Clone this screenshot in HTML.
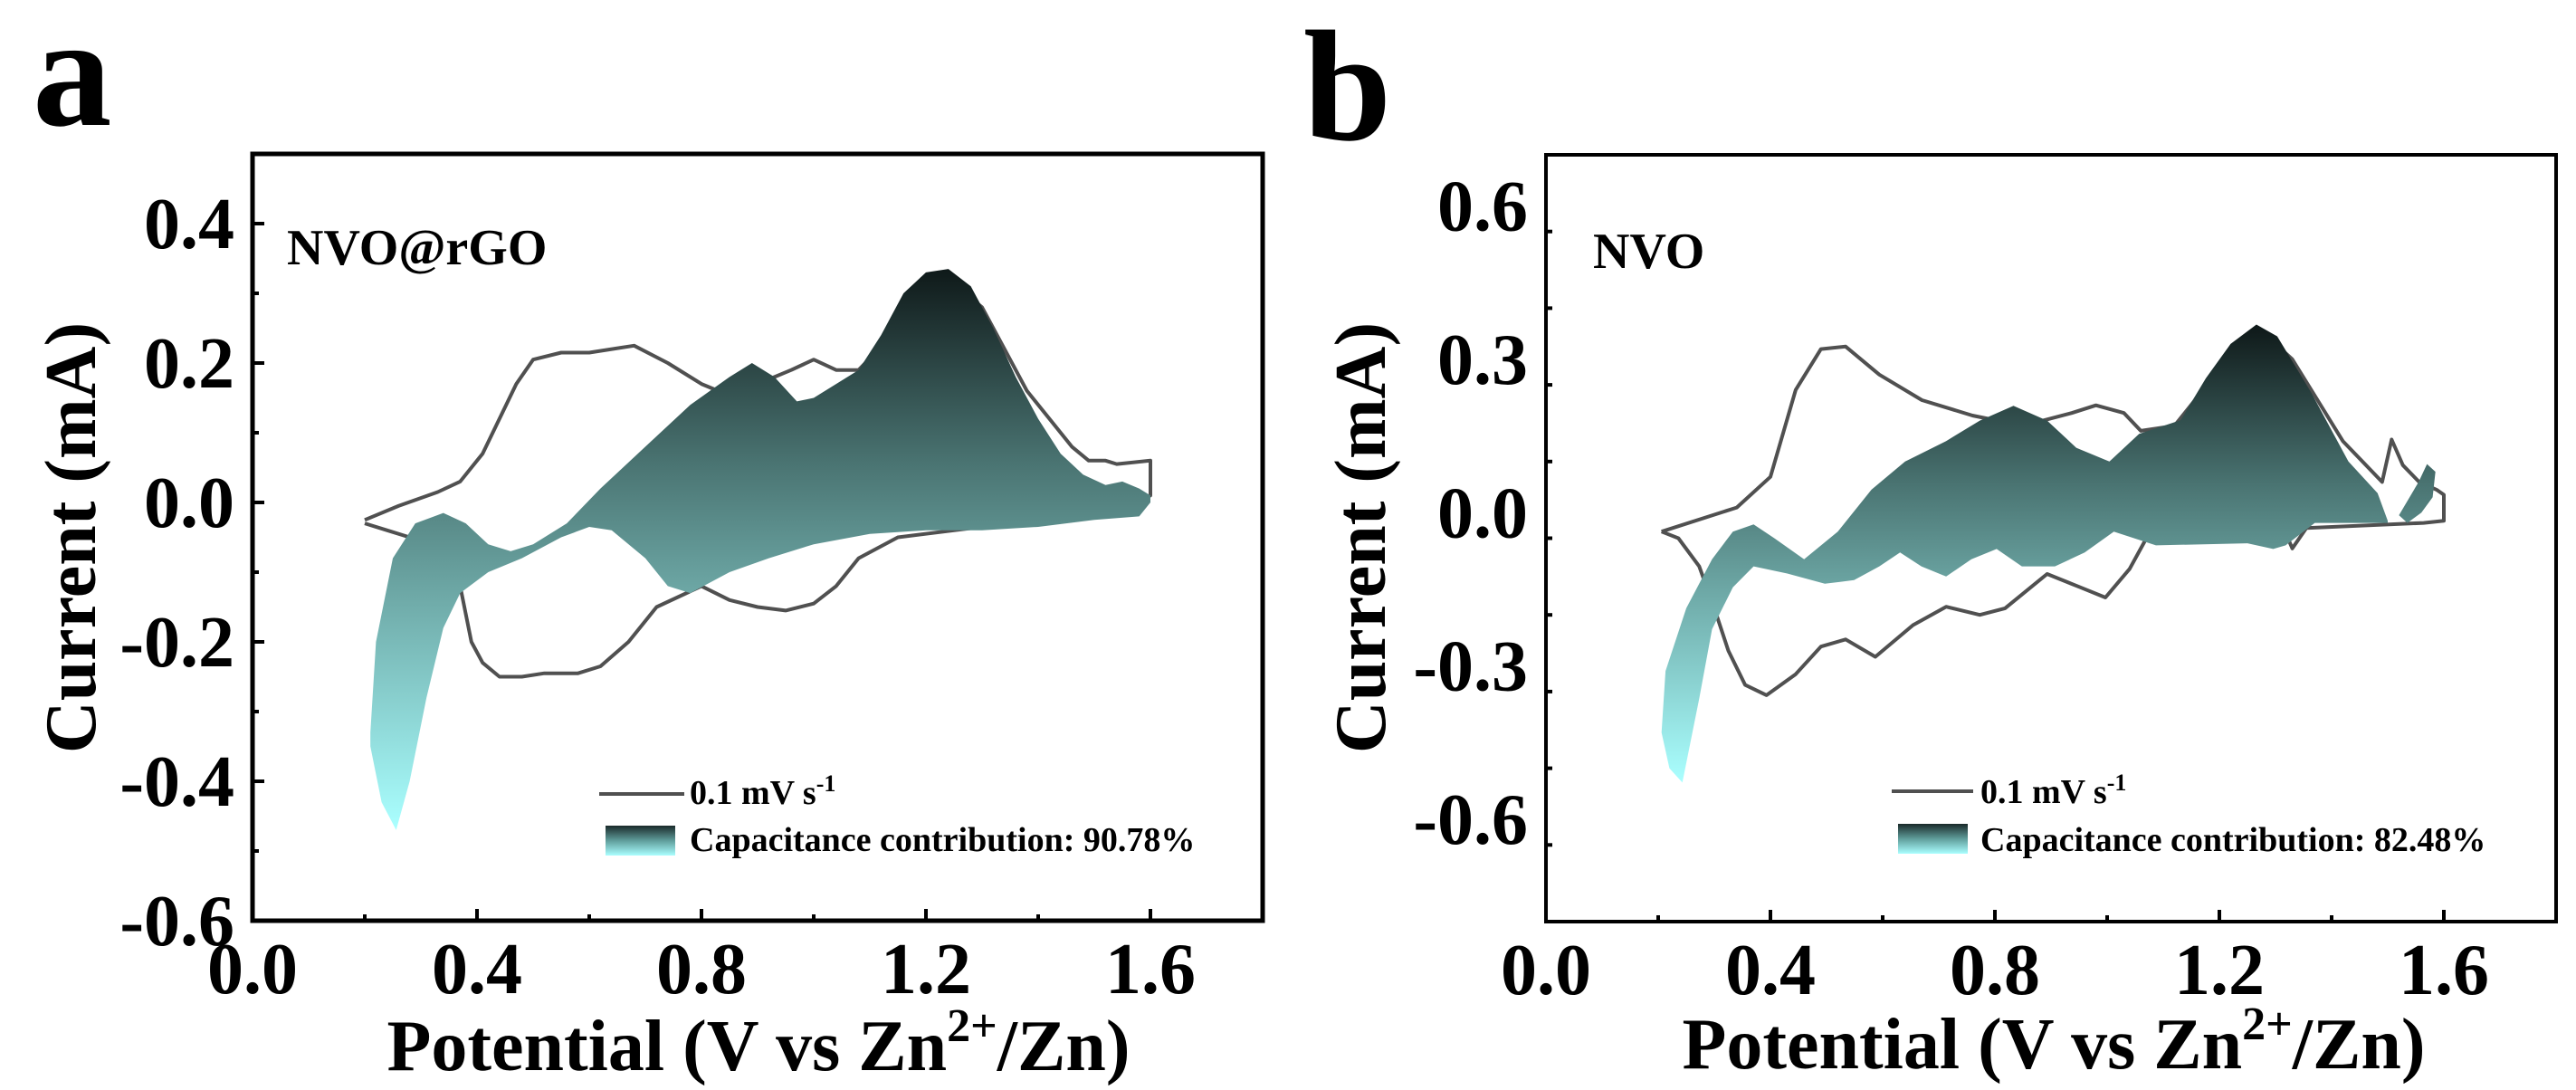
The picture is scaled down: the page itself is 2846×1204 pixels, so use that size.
<!DOCTYPE html>
<html><head><meta charset="utf-8"><style>
html,body{margin:0;padding:0;background:#fff;}
svg{display:block;}
text{font-family:"Liberation Serif",serif;font-weight:bold;fill:#000;}
</style></head><body>
<svg id="fig" width="2846" height="1204" viewBox="0 0 2846 1204" xmlns="http://www.w3.org/2000/svg">
<defs>
<linearGradient id="gA" gradientUnits="userSpaceOnUse" x1="0" y1="295" x2="0" y2="915">
<stop offset="0" stop-color="#0e1818"/><stop offset="0.35" stop-color="#4a7472"/><stop offset="0.6" stop-color="#70acaa"/><stop offset="1" stop-color="#aaffff"/></linearGradient>
<linearGradient id="gB" gradientUnits="userSpaceOnUse" x1="0" y1="359" x2="0" y2="864">
<stop offset="0" stop-color="#0e1818"/><stop offset="0.35" stop-color="#4a7472"/><stop offset="0.6" stop-color="#70acaa"/><stop offset="1" stop-color="#aaffff"/></linearGradient>
<linearGradient id="gL" x1="0" y1="0" x2="0" y2="1">
<stop offset="0" stop-color="#1a2a2a"/><stop offset="0.5" stop-color="#5f9d9b"/><stop offset="1" stop-color="#aaffff"/></linearGradient>
</defs>
<g id="root"></g>
</svg>
<script>
// Panel a data (V, mA)
const aCvV=[0.2,0.26,0.33,0.37,0.41,0.44,0.47,0.5,0.55,0.6,0.68,0.74,0.8,0.86,0.9,0.96,1.0,1.04,1.08,1.14,1.2,1.24,1.3,1.38,1.46,1.49,1.52,1.54,1.6,1.6,1.6,1.55,1.45,1.35,1.25,1.15,1.08,1.04,1.0,0.95,0.9,0.85,0.8,0.72,0.67,0.62,0.58,0.52,0.48,0.44,0.41,0.39,0.37,0.33,0.28,0.24,0.2];
const aCvI=[-0.025,-0.005,0.015,0.03,0.07,0.12,0.17,0.205,0.215,0.215,0.225,0.2,0.17,0.15,0.17,0.19,0.205,0.19,0.19,0.24,0.3,0.32,0.28,0.16,0.08,0.06,0.06,0.055,0.06,0.02,0.01,-0.01,-0.02,-0.03,-0.04,-0.05,-0.08,-0.12,-0.145,-0.155,-0.15,-0.14,-0.12,-0.15,-0.2,-0.235,-0.245,-0.245,-0.25,-0.25,-0.23,-0.2,-0.12,-0.07,-0.05,-0.04,-0.03];
const aCapV=[0.21,0.22,0.25,0.29,0.34,0.38,0.42,0.46,0.5,0.56,0.62,0.7,0.78,0.85,0.89,0.93,0.97,1.0,1.04,1.08,1.12,1.16,1.2,1.24,1.28,1.32,1.36,1.4,1.44,1.48,1.52,1.55,1.58,1.6,1.6,1.58,1.5,1.4,1.3,1.2,1.1,1.0,0.92,0.85,0.78,0.74,0.7,0.64,0.6,0.55,0.48,0.42,0.37,0.34,0.31,0.28,0.256,0.23,0.21];
const aCapI=[-0.33,-0.2,-0.08,-0.03,-0.015,-0.03,-0.06,-0.07,-0.06,-0.03,0.02,0.08,0.14,0.18,0.2,0.18,0.145,0.15,0.17,0.19,0.24,0.3,0.33,0.335,0.31,0.25,0.18,0.12,0.07,0.04,0.025,0.03,0.02,0.01,0.0,-0.02,-0.025,-0.035,-0.04,-0.04,-0.045,-0.06,-0.08,-0.1,-0.13,-0.12,-0.08,-0.04,-0.035,-0.05,-0.08,-0.1,-0.13,-0.18,-0.28,-0.4,-0.47,-0.43,-0.35];
const aYTicks=[0.4,0.2,0.0,-0.2,-0.4,-0.6];
const aYLabels=["0.4","0.2","0.0","-0.2","-0.4","-0.6"];
// Panel b data
const bCvV=[0.206,0.34,0.4,0.445,0.49,0.534,0.594,0.67,0.76,0.85,0.937,0.98,1.03,1.06,1.12,1.2,1.27,1.33,1.42,1.49,1.507,1.527,1.556,1.587,1.6,1.6,1.564,1.355,1.33,1.318,1.07,1.04,0.997,0.952,0.893,0.818,0.773,0.713,0.654,0.587,0.534,0.49,0.445,0.393,0.355,0.325,0.3,0.273,0.236,0.206];
const bCvI=[-0.037,0.01,0.07,0.24,0.32,0.325,0.27,0.22,0.19,0.17,0.195,0.21,0.195,0.16,0.17,0.28,0.36,0.3,0.14,0.06,0.143,0.093,0.06,0.045,0.035,-0.016,-0.02,-0.03,-0.07,-0.04,-0.05,-0.11,-0.166,-0.146,-0.12,-0.187,-0.2,-0.184,-0.22,-0.282,-0.248,-0.262,-0.316,-0.357,-0.337,-0.27,-0.187,-0.105,-0.05,-0.037];
const bCapV=[0.206,0.213,0.25,0.296,0.333,0.37,0.407,0.46,0.52,0.58,0.64,0.713,0.773,0.833,0.893,0.945,1.004,1.057,1.131,1.176,1.22,1.266,1.303,1.363,1.43,1.482,1.5,1.5,1.37,1.318,1.296,1.25,1.087,1.012,0.96,0.907,0.848,0.803,0.758,0.713,0.669,0.631,0.594,0.549,0.497,0.43,0.37,0.333,0.296,0.273,0.243,0.22,0.206];
const bCapI=[-0.43,-0.31,-0.187,-0.091,-0.037,-0.023,-0.05,-0.091,-0.037,0.045,0.1,0.14,0.18,0.209,0.18,0.127,0.1,0.154,0.181,0.263,0.33,0.368,0.345,0.236,0.1,0.038,-0.016,-0.02,-0.02,-0.064,-0.071,-0.06,-0.064,-0.037,-0.078,-0.105,-0.105,-0.071,-0.091,-0.125,-0.105,-0.078,-0.105,-0.132,-0.139,-0.119,-0.105,-0.146,-0.228,-0.364,-0.528,-0.5,-0.43];
const bTailV=[1.52,1.555,1.57,1.585,1.58,1.56,1.535];
const bTailI=[-0.005,0.06,0.095,0.08,0.03,0.0,-0.02];
const bYTicks=[0.6,0.3,0.0,-0.3,-0.6];
const bYLabels=["0.6","0.3","0.0","-0.3","-0.6"];
const xTicks=[0.0,0.4,0.8,1.2,1.6];
const xLabels=["0.0","0.4","0.8","1.2","1.6"];

const NS="http://www.w3.org/2000/svg";
const root=document.getElementById('root');
function mk(tag,attrs,parent){const e=document.createElementNS(NS,tag);for(const k in attrs)e.setAttribute(k,attrs[k]);(parent||root).appendChild(e);return e;}
function pts(vs,is,sx,sy){return vs.map((v,k)=>sx(v).toFixed(1)+","+sy(is[k]).toFixed(1)).join(" ");}

function panel(p){
  const g=mk('g',{});
  
  
  const sx=v=>p.x0+(v-0)/(1.8)*(p.x1-p.x0);
  const sy=i=>p.y1-(i-p.ymin)/(p.ymax-p.ymin)*(p.y1-p.y0);
  const cv=mk('polyline',{points:pts(p.cvV,p.cvI,sx,sy),fill:'none',stroke:'#505050','stroke-width':4,'stroke-linejoin':'round'},g);
  
  
  const cap=mk('polygon',{points:pts(p.capV,p.capI,sx,sy),fill:p.grad},g);
  
  
  if(p.tailV){const t=mk('polygon',{points:pts(p.tailV,p.tailI,sx,sy),fill:p.grad},g);
    
    }
  const fr=mk('rect',{x:p.x0,y:p.y0,width:p.x1-p.x0,height:p.y1-p.y0,fill:'none',stroke:'#000','stroke-width':p.sw},g);
  
  
  for(let k=0;k<=8;k++){const v=k*0.2;const X=sx(v);const len=(k%2==0)?13:7;
    if(X>p.x1-3)continue;
    mk('line',{x1:X,y1:p.y1,x2:X,y2:p.y1-len,stroke:'#000','stroke-width':4},g);}
  xTicks.forEach((v,k)=>{const t=mk('text',{x:sx(v),y:p.y1+80,'font-size':80,'text-anchor':'middle'},g);t.textContent=xLabels[k];
    
    });
  const step=p.yTicks[0]-p.yTicks[1];
  for(let v=p.ymin;v<=p.ymax+1e-6;v+=step/2){const Y=sy(v);const major=p.yTicks.some(t=>Math.abs(t-v)<1e-6);
    if(Y<p.y0+3||Y>p.y1-3)continue;
    mk('line',{x1:p.x0,y1:Y,x2:p.x0+(major?13:7),y2:Y,stroke:'#000','stroke-width':4},g);}
  p.yTicks.forEach((v,k)=>{const t=mk('text',{x:p.x0-20,y:sy(v)+27,'font-size':80,'text-anchor':'end'},g);t.textContent=p.yLabels[k];
    
    });
}

panel({name:'panel-a',x0:279,x1:1395,y0:170,y1:1017,ymin:-0.6,ymax:0.5,sw:5,cvV:aCvV,cvI:aCvI,capV:aCapV,capI:aCapI,grad:'url(#gA)',yTicks:aYTicks,yLabels:aYLabels});
panel({name:'panel-b',x0:1708,x1:2824,y0:171,y1:1018,ymin:-0.8,ymax:0.7,sw:4,cvV:bCvV,cvI:bCvI,capV:bCapV,capI:bCapI,tailV:bTailV,tailI:bTailI,grad:'url(#gB)',yTicks:bYTicks,yLabels:bYLabels});
</script>
<script>
const s=document.getElementById('fig');
s.insertAdjacentHTML('beforeend',`
<text x="36" y="138" font-size="175">a</text>
<text x="1440" y="154" font-size="175">b</text>
<text transform="translate(105,594) rotate(-90)" font-size="80" text-anchor="middle">Current (mA)</text>
<text transform="translate(1530,594) rotate(-90)" font-size="80" text-anchor="middle">Current (mA)</text>
<text x="838" y="1182" font-size="80" text-anchor="middle">Potential (V vs Zn<tspan dy="-32" font-size="52">2+</tspan><tspan dy="32">/Zn)</tspan></text>
<text x="2269" y="1180" font-size="80" text-anchor="middle">Potential (V vs Zn<tspan dy="-32" font-size="52">2+</tspan><tspan dy="32">/Zn)</tspan></text>
<text x="317" y="292" font-size="56">NVO@rGO</text>
<text x="1760" y="296" font-size="56">NVO</text>
<g>
<line x1="662" y1="877" x2="756" y2="877" stroke="#505050" stroke-width="4"/>
<text x="762" y="888" font-size="38">0.1 mV s<tspan dy="-14" font-size="26">-1</tspan></text>
<rect x="669" y="912" width="77" height="33" fill="url(#gL)"/>
<text x="762" y="940" font-size="38">Capacitance contribution: 90.78%</text>
</g>
<g>
<line x1="2090" y1="874" x2="2180" y2="874" stroke="#505050" stroke-width="4"/>
<text x="2188" y="887" font-size="38">0.1 mV s<tspan dy="-14" font-size="26">-1</tspan></text>
<rect x="2097" y="910" width="77" height="33" fill="url(#gL)"/>
<text x="2188" y="940" font-size="38">Capacitance contribution: 82.48%</text>
</g>`);
</script>
</body></html>
